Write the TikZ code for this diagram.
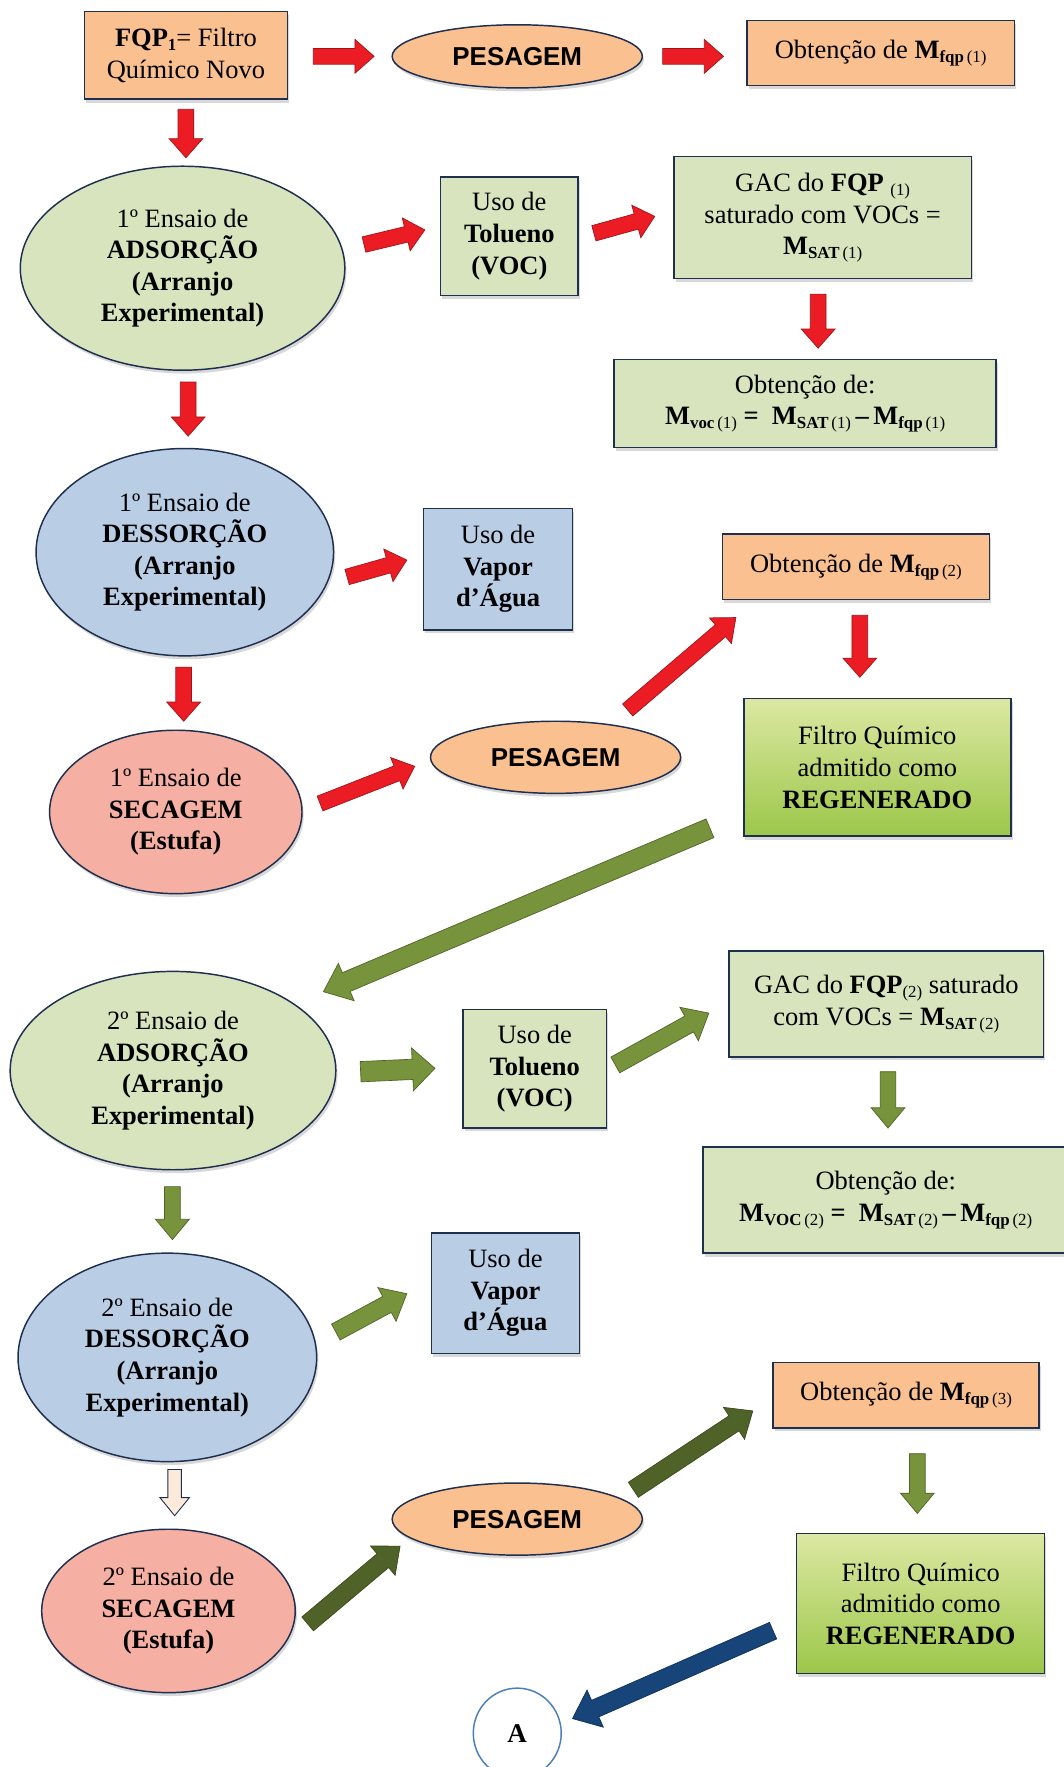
\documentclass[tikz,border=0pt]{standalone}
\usepackage{fontspec}
\setmainfont{Liberation Serif}
\setsansfont{Liberation Sans}
\usetikzlibrary{shapes.geometric,calc,shadows}
\definecolor{orfill}{HTML}{FAC090}
\definecolor{grfill}{HTML}{D7E4BD}
\definecolor{blfill}{HTML}{B9CDE5}
\definecolor{pkfill}{HTML}{F5AFA3}
\definecolor{edge}{HTML}{1F2F4F}
\definecolor{redarr}{HTML}{EC1C24}
\definecolor{redline}{HTML}{9E1418}
\definecolor{grarr}{HTML}{77933C}
\definecolor{grline}{HTML}{4F6228}
\definecolor{dgarr}{HTML}{4F6228}
\definecolor{dgline}{HTML}{3A481C}
\definecolor{blarr}{HTML}{17457A}
\definecolor{blline}{HTML}{0E2E55}
\definecolor{peach}{HTML}{FDEADA}
\definecolor{regtop}{HTML}{DCE8A2}
\definecolor{regbot}{HTML}{9CC74A}
\definecolor{circ}{HTML}{4A7EBB}
\newcommand\sbs[2]{\raisebox{-.3ex}{\fontsize{15}{15}\selectfont\textbf{#1}\,#2}}
\newcommand\sbn[1]{\raisebox{-.3ex}{\fontsize{15}{15}\selectfont #1}}
\newcommand\barrow[6]{%
  \coordinate (bA) at #2; \coordinate (bB) at #3;
  \coordinate (bH) at ($(bB)!#6!(bA)$);
  \path[#1] ($(bA)!#4!90:(bB)$) -- ($(bH)!#4!-90:(bA)$) -- ($(bH)!#5!-90:(bA)$)
    -- (bB) -- ($(bH)!#5!90:(bA)$) -- ($(bH)!#4!90:(bA)$) -- ($(bA)!#4!-90:(bB)$) -- cycle;}
\tikzset{
  base/.style={draw=edge, line width=1.3pt, align=center, inner sep=2pt,
    font=\fontsize{23.5}{28}\selectfont,
    drop shadow={shadow xshift=1.5pt, shadow yshift=-3pt, opacity=0.3}},
  box/.style={base, rectangle},
  oval/.style={base, ellipse, inner sep=0pt},
  obox/.style={box, fill=orfill},
  gbox/.style={box, fill=grfill},
  bbox/.style={box, fill=blfill},
  rbox/.style={box, top color=regtop, bottom color=regbot},
  pes/.style={oval, fill=orfill, font=\fontsize{23}{28}\sffamily\bfseries},
  ra/.style={fill=redarr, draw=redline, line width=0.6pt},
  ga/.style={fill=grarr, draw=grline, line width=0.6pt},
  da/.style={fill=dgarr, draw=dgline, line width=0.6pt},
  ba/.style={fill=blarr, draw=blline, line width=0.6pt},
  ha/.style={fill=peach, draw=edge, line width=0.8pt},
}
\begin{document}
\begin{tikzpicture}[x=1pt,y=-1pt]
\useasboundingbox[fill=white] (0,0) rectangle (944,1568);
% ---- nodes
\node[obox, minimum width=180, minimum height=78] (fqp) at (165,49) {\textbf{FQP}\sbn{\textbf{1}}= Filtro\\Químico Novo};
\node[pes, minimum width=222, minimum height=56] (pes1) at (459,50) {PESAGEM};
\node[obox, minimum width=237, minimum height=58] (m1) at (781.5,47) {Obtenção de \textbf{M}\sbs{fqp}{(1)}};
\node[oval, fill=grfill, minimum width=288, minimum height=181] (ads1) at (162,238) {1º Ensaio de\\\textbf{ADSORÇÃO}\\\textbf{(Arranjo}\\\textbf{Experimental)}};
\node[gbox, minimum width=122, minimum height=105] (tol1) at (452,209.5) {Uso de\\\textbf{Tolueno}\\\textbf{(VOC)}};
\node[gbox, minimum width=264, minimum height=108] (gac1) at (730,193) {GAC do \textbf{FQP} \sbn{(1)}\\saturado com VOCs =\\\textbf{M}\sbs{SAT}{(1)}};
\node[gbox, minimum width=339, minimum height=78] (mv1) at (714.5,358) {Obtenção de:\\\textbf{M}\sbs{voc}{(1)} \textbf{=}\ \ \textbf{M}\sbs{SAT}{(1)}\,\textbf{–}\,\textbf{M}\sbs{fqp}{(1)}};
\node[oval, fill=blfill, minimum width=264, minimum height=184] (des1) at (164,490) {1º Ensaio de\\\textbf{DESSORÇÃO}\\\textbf{(Arranjo}\\\textbf{Experimental)}};
\node[bbox, minimum width=132, minimum height=108] (vap1) at (442,505) {Uso de\\\textbf{Vapor}\\\textbf{d’Água}};
\node[obox, minimum width=237, minimum height=58] (m2) at (759.5,503) {Obtenção de \textbf{M}\sbs{fqp}{(2)}};
\node[oval, fill=pkfill, minimum width=224, minimum height=145] (sec1) at (156,720.5) {1º Ensaio de\\\textbf{SECAGEM}\\\textbf{(Estufa)}};
\node[pes, minimum width=222, minimum height=64] (pes2) at (493,672) {PESAGEM};
\node[rbox, minimum width=237, minimum height=122] (reg1) at (778.5,681) {Filtro Químico\\admitido como\\\textbf{REGENERADO}};
\node[oval, fill=grfill, minimum width=289, minimum height=176] (ads2) at (153.5,950) {2º Ensaio de\\\textbf{ADSORÇÃO}\\\textbf{(Arranjo}\\\textbf{Experimental)}};
\node[gbox, minimum width=127, minimum height=105] (tol2) at (474.5,948.5) {Uso de\\\textbf{Tolueno}\\\textbf{(VOC)}};
\node[gbox, minimum width=279, minimum height=94] (gac2) at (786.5,891) {GAC do \textbf{FQP}\sbn{(2)} saturado\\com VOCs = \textbf{M}\sbs{SAT}{(2)}};
\node[gbox, minimum width=324, minimum height=94] (mv2) at (786,1065) {Obtenção de:\\\textbf{M}\sbs{VOC}{(2)} \textbf{=}\ \ \textbf{M}\sbs{SAT}{(2)}\,\textbf{–}\,\textbf{M}\sbs{fqp}{(2)}};
\node[oval, fill=blfill, minimum width=265, minimum height=185] (des2) at (148.5,1204.5) {2º Ensaio de\\\textbf{DESSORÇÃO}\\\textbf{(Arranjo}\\\textbf{Experimental)}};
\node[bbox, minimum width=131, minimum height=107] (vap2) at (448.5,1147.5) {Uso de\\\textbf{Vapor}\\\textbf{d’Água}};
\node[obox, minimum width=236, minimum height=58] (m3) at (804,1238) {Obtenção de \textbf{M}\sbs{fqp}{(3)}};
\node[oval, fill=pkfill, minimum width=225, minimum height=145] (sec2) at (149.5,1429.5) {2º Ensaio de\\\textbf{SECAGEM}\\\textbf{(Estufa)}};
\node[pes, minimum width=222, minimum height=64] (pes3) at (459,1348) {PESAGEM};
\node[rbox, minimum width=220, minimum height=124] (reg2) at (817,1423) {Filtro Químico\\admitido como\\\textbf{REGENERADO}};
\node[ellipse, draw=circ, line width=1.3pt, fill=white, minimum width=78, minimum height=80, inner sep=0pt, font=\fontsize{24}{28}\selectfont\bfseries] (A) at (459,1538) {A};
% ---- arrows
\barrow{ra}{(278,50)}{(332,50)}{7pt}{15pt}{17pt}
\barrow{ra}{(588,50)}{(642,50)}{7pt}{15pt}{17pt}
\barrow{ra}{(165,97)}{(165,140)}{7pt}{15pt}{17pt}
\barrow{ra}{(323,217)}{(377,204)}{7pt}{15pt}{17pt}
\barrow{ra}{(527,207)}{(581,192)}{7pt}{15pt}{17pt}
\barrow{ra}{(726,261)}{(726,309)}{7pt}{15pt}{17pt}
\barrow{ra}{(167,339)}{(167,387)}{7pt}{15pt}{17pt}
\barrow{ra}{(308,512)}{(361,497)}{7pt}{15pt}{17pt}
\barrow{ra}{(763,546)}{(763,601)}{7pt}{15pt}{17pt}
\barrow{ra}{(557,630)}{(653,548)}{7pt}{15pt}{18pt}
\barrow{ra}{(163,592)}{(163,640)}{7pt}{15pt}{17pt}
\barrow{ra}{(284,713)}{(368,680)}{7pt}{15pt}{17pt}
\barrow{ga}{(630,735)}{(287,880)}{9pt}{18pt}{22pt}
\barrow{ga}{(320,951)}{(386,948)}{9pt}{19pt}{20pt}
\barrow{ga}{(546,945)}{(629,899)}{8pt}{17pt}{20pt}
\barrow{ga}{(788,951)}{(788,1001)}{7pt}{15pt}{18pt}
\barrow{ga}{(153,1053)}{(153,1100)}{7pt}{15pt}{18pt}
\barrow{ga}{(298,1182)}{(361,1148)}{8pt}{17pt}{20pt}
\barrow{ga}{(814,1290)}{(814,1343)}{7pt}{15pt}{18pt}
\barrow{ha}{(155,1304)}{(155,1345)}{6pt}{13pt}{16pt}
\barrow{da}{(273,1441)}{(355,1372)}{8pt}{17pt}{20pt}
\barrow{da}{(562,1322)}{(668,1252)}{8pt}{17pt}{20pt}
\barrow{ba}{(686,1447)}{(508,1525)}{8pt}{18pt}{22pt}
\end{tikzpicture}
\end{document}
